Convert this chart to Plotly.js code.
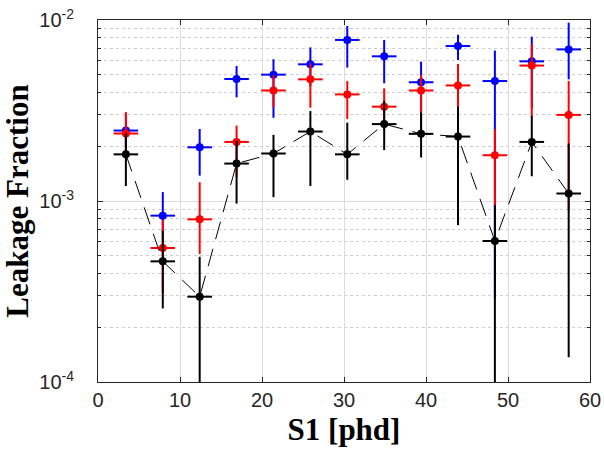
<!DOCTYPE html>
<html>
<head>
<meta charset="utf-8">
<script src="https://cdn.plot.ly/plotly-3.0.1.min.js"></script>
<style>html,body{margin:0;padding:0;background:#fff;}#chart{width:604px;height:449px;}</style>
</head>
<body>
<div id="chart"></div>
<script>
// S1 bin centres [phd] and half bin widths
var s1 = [3.4, 7.9, 12.4, 16.9, 21.4, 25.9, 30.4, 34.9, 39.4, 43.9, 48.4, 52.9, 57.4];
var s1Half = [1.5, 1.5, 1.5, 1.5, 1.5, 1.5, 1.5, 1.5, 1.5, 1.5, 1.5, 1.5, 1.5];

// Blue series: value, upper edge, lower edge
var blueVal = [2.45e-3, 8.30e-4, 1.98e-3, 4.72e-3, 4.99e-3, 5.69e-3, 7.76e-3, 6.30e-3, 4.53e-3, 7.18e-3, 4.60e-3, 5.91e-3, 6.88e-3];
var blueHi  = [3.01e-3, 1.12e-3, 2.50e-3, 5.57e-3, 6.07e-3, 7.06e-3, 9.27e-3, 7.76e-3, 5.89e-3, 8.29e-3, 6.78e-3, 8.09e-3, 9.67e-3];
var blueLo  = [2.01e-3, 6.62e-4, 1.38e-3, 3.74e-3, 2.88e-3, 4.32e-3, 5.46e-3, 4.47e-3, 3.05e-3, 6.01e-3, 2.90e-4, 3.25e-3, 4.70e-3];

// Red series
var redVal = [2.36e-3, 5.50e-4, 7.92e-4, 2.12e-3, 4.08e-3, 4.70e-3, 3.88e-3, 3.32e-3, 4.08e-3, 4.35e-3, 1.79e-3, 5.60e-3, 2.99e-3];
var redHi  = [3.10e-3, 7.85e-4, 1.27e-3, 2.61e-3, 4.97e-3, 5.77e-3, 4.60e-3, 4.19e-3, 4.97e-3, 5.72e-3, 2.50e-3, 7.37e-3, 4.60e-3];
var redLo  = [1.83e-3, 3.09e-4, 5.09e-4, 1.36e-3, 3.29e-3, 3.28e-3, 2.84e-3, 2.47e-3, 2.22e-3, 3.29e-3, 9.51e-4, 2.92e-3, 8.85e-4];

// Black series
var blackVal = [1.81e-3, 4.64e-4, 2.96e-4, 1.61e-3, 1.83e-3, 2.42e-3, 1.81e-3, 2.66e-3, 2.35e-3, 2.27e-3, 6.01e-4, 2.12e-3, 1.10e-3];
var blackHi  = [2.37e-3, 6.85e-4, 4.92e-4, 2.15e-3, 2.32e-3, 3.14e-3, 2.71e-3, 3.57e-3, 3.08e-3, 3.32e-3, 9.50e-4, 2.95e-3, 2.08e-3];
var blackLo  = [1.21e-3, 2.55e-4, 5.0e-5, 9.67e-4, 1.05e-3, 1.21e-3, 1.31e-3, 1.91e-3, 1.74e-3, 7.36e-4, 5.0e-5, 1.37e-3, 1.37e-4];

// Axis ticks
var xTicks = [0, 10, 20, 30, 40, 50, 60];
var yTicks = [1e-4, 1e-3, 1e-2];
var yTickText = ['10<sup>-4</sup>', '10<sup>-3</sup>', '10<sup>-2</sup>'];
var yMinor = [2e-4, 3e-4, 4e-4, 5e-4, 6e-4, 7e-4, 8e-4, 9e-4, 2e-3, 3e-3, 4e-3, 5e-3, 6e-3, 7e-3, 8e-3, 9e-3];

function diff(a, b) { return a.map(function (v, i) { return v - b[i]; }); }

function series(val, hi, lo, color, withLine) {
  return {
    type: 'scatter',
    x: s1,
    y: val,
    mode: withLine ? 'lines+markers' : 'markers',
    line: {color: color, width: 1, dash: '18px,10px'},
    marker: {color: color, size: 8},
    error_y: {type: 'data', symmetric: false, array: diff(hi, val), arrayminus: diff(val, lo),
              color: color, thickness: 2, width: 0},
    error_x: {type: 'data', array: s1Half, color: color, thickness: 2, width: 0},
    showlegend: false,
    hoverinfo: 'skip'
  };
}

var data = [
  series(blueVal, blueHi, blueLo, '#0000ff', false),
  series(redVal, redHi, redLo, '#ff0000', false),
  series(blackVal, blackHi, blackLo, '#000000', true)
];

var axisCol = '#262626';
var titleFont = {family: 'Liberation Serif, Times New Roman, serif', size: 31, color: '#000', weight: 'bold'};
var layout = {
  width: 604, height: 449,
  margin: {l: 98, r: 14, t: 20, b: 67, pad: 0},
  paper_bgcolor: '#ffffff', plot_bgcolor: '#ffffff',
  font: {family: 'Liberation Sans, Arial, sans-serif', size: 20, color: axisCol},
  xaxis: {
    range: [0, 60], tickmode: 'array', tickvals: xTicks,
    ticks: 'inside', ticklen: 5, tickcolor: axisCol,
    showline: true, linecolor: axisCol, linewidth: 1, mirror: 'ticks',
    showgrid: true, gridcolor: '#dcdcdc', gridwidth: 1, zeroline: false,
    tickfont: {size: 20, color: axisCol},
    title: {text: 'S1 [phd]', font: titleFont, standoff: 8}
  },
  yaxis: {
    type: 'log', range: [-4, -2], tickmode: 'array', tickvals: yTicks, ticktext: yTickText,
    ticks: 'inside', ticklen: 5, tickcolor: axisCol,
    showline: true, linecolor: axisCol, linewidth: 1, mirror: 'ticks',
    showgrid: true, gridcolor: '#dcdcdc', gridwidth: 1, zeroline: false,
    tickfont: {size: 20, color: axisCol},
    ticklabelstandoff: 19,
    minor: {tickmode: 'array', tickvals: yMinor, ticks: 'inside', ticklen: 3, tickcolor: axisCol,
            showgrid: true, gridcolor: '#cfcfcf', griddash: 'dot', gridwidth: 1},
    title: {text: 'Leakage Fraction', font: titleFont, standoff: 2}
  }
};

Plotly.newPlot('chart', data, layout, {staticPlot: true, displayModeBar: false});
</script>
</body>
</html>
